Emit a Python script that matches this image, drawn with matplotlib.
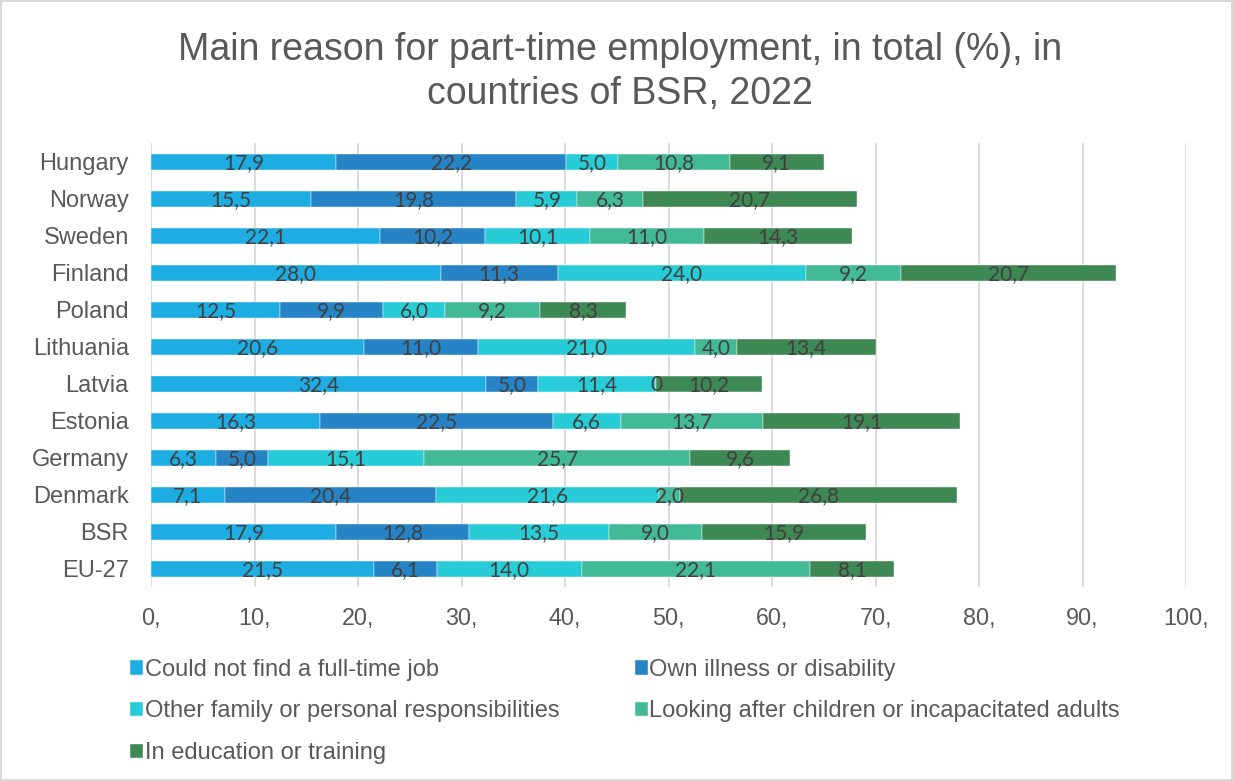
import matplotlib.pyplot as plt
import numpy as np

# data
countries = ['Hungary', 'Norway', 'Sweden', 'Finland', 'Poland', 'Lithuania',
             'Latvia', 'Estonia', 'Germany', 'Denmark', 'BSR', 'EU-27']
reasons = ['Could not find a full-time job', 'Own illness or disability',
           'Other family or personal responsibilities',
           'Looking after children or incapacitated adults',
           'In education or training']
no_fulltime = [17.9, 15.5, 22.1, 28.0, 12.5, 20.6, 32.4, 16.3, 6.3, 7.1, 17.9, 21.5]
illness = [22.2, 19.8, 10.2, 11.3, 9.9, 11.0, 5.0, 22.5, 5.0, 20.4, 12.8, 6.1]
family = [5.0, 5.9, 10.1, 24.0, 6.0, 21.0, 11.4, 6.6, 15.1, 21.6, 13.5, 14.0]
children = [10.8, 6.3, 11.0, 9.2, 9.2, 4.0, 0.0, 13.7, 25.7, 2.0, 9.0, 22.1]
education = [9.1, 20.7, 14.3, 20.7, 8.3, 13.4, 10.2, 19.1, 9.6, 26.8, 15.9, 8.1]
xticks = np.arange(0, 101, 10)
xtick_labels = [f'{t},' for t in xticks]

colors = ['#1DADE2', '#2683C6', '#28CCD6', '#42BA97', '#3E8853']
series = [no_fulltime, illness, family, children, education]

fig = plt.figure(figsize=(12.33, 7.81), dpi=100, edgecolor='#d9d9d9', linewidth=1.5)
ax = fig.add_axes([0.1225, 0.2478, 0.8394, 0.5685])

y = np.arange(len(countries))[::-1]
left = np.zeros(len(countries))
bars = []
for vals, col, name in zip(series, colors, reasons):
    vals = np.array(vals)
    b = ax.barh(y, vals, left=left, height=0.42, color=col, label=name,
                edgecolor='white', linewidth=0.3, zorder=3)
    bars.append(b)
    for yi, l, v in zip(y, left, vals):
        txt = '0' if v == 0 else f'{v:.1f}'.replace('.', ',')
        ax.text(l + v / 2, yi - 0.04, txt, ha='center', va='center',
                fontsize=15, family='Lato', color='#404040', zorder=4)
    left += vals

ax.set_xlim(0, 100)
ax.set_ylim(-0.5, 11.5)
ax.set_xticks(xticks)
ax.set_xticklabels(xtick_labels, family='Liberation Sans', fontsize=16.8, color='#595959')
ax.set_yticks(y)
ax.set_yticklabels(countries, family='Liberation Sans', fontsize=17, color='#595959')
ax.tick_params(length=0)
ax.tick_params(axis='x', pad=14)
ax.tick_params(axis='y', pad=16)
ax.grid(axis='x', color='#d9d9d9', linewidth=1.3, zorder=0)
for s in ax.spines.values():
    s.set_visible(False)

fig.suptitle('Main reason for part-time employment, in total (%), in\ncountries of BSR, 2022',
             x=0.503, y=0.959, fontsize=27, family='Liberation Sans', color='#595959',
             linespacing=1.3)

# legend: 2 columns, filled column-first
order = [0, 2, 4, 1, 3]
leg = fig.legend([bars[i] for i in order], [reasons[i] for i in order],
                 loc='upper left', bbox_to_anchor=(0.0886, 0.1837), ncol=2,
                 frameon=False, prop={'family': 'Liberation Sans', 'size': 17},
                 handlelength=0.55, handleheight=0.55, handletextpad=0.05,
                 columnspacing=3.2, labelspacing=0.83, labelcolor='#595959')

fig.savefig('out.png', dpi=100)
